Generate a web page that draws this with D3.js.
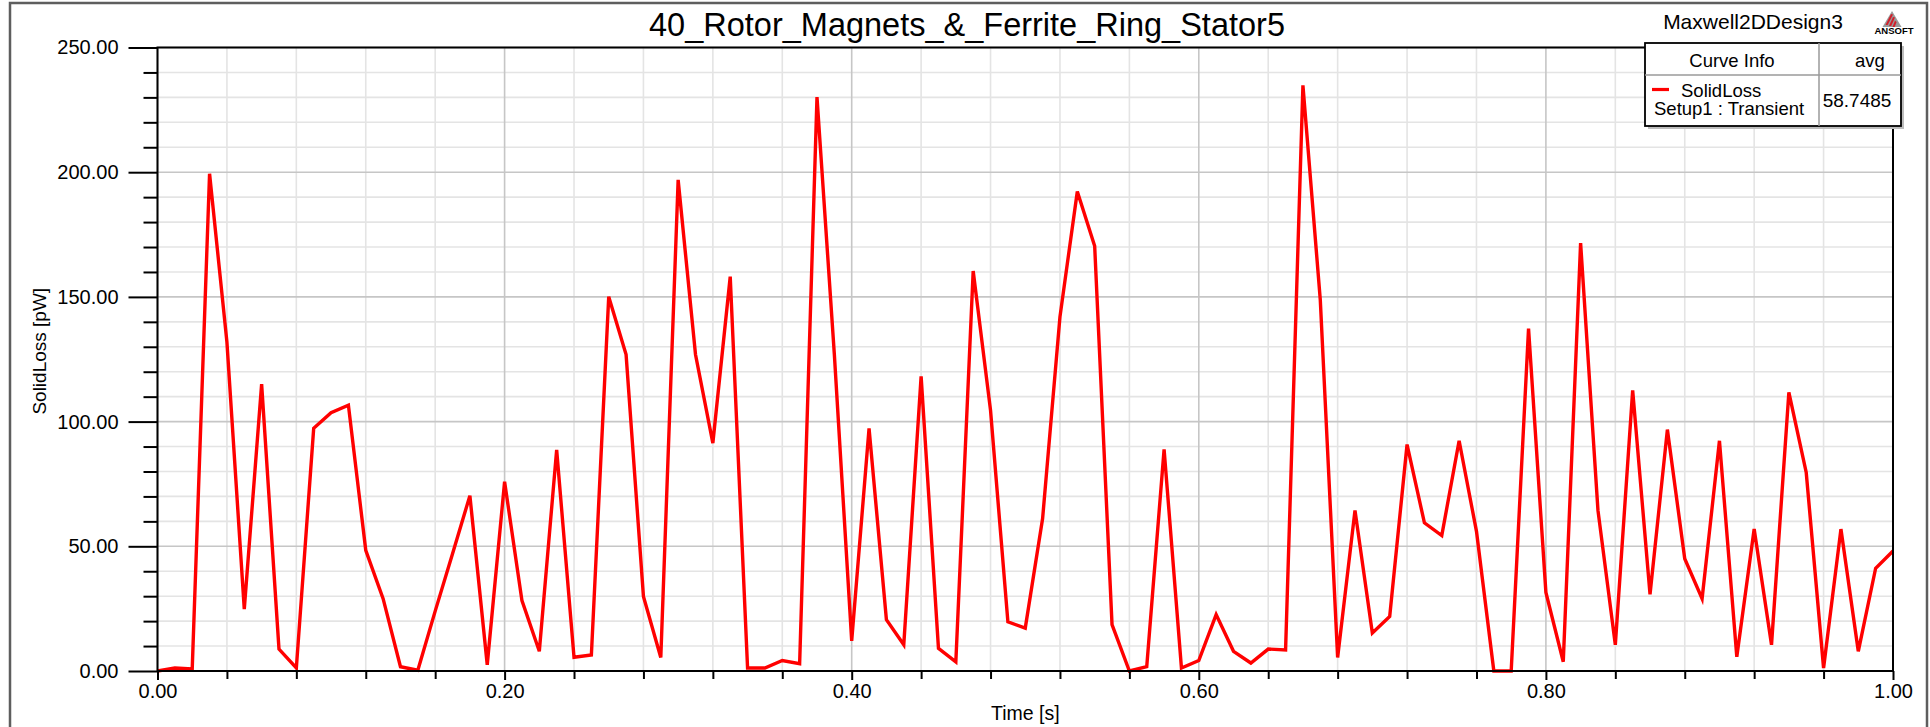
<!DOCTYPE html>
<html>
<head>
<meta charset="utf-8">
<script src="https://cdn.jsdelivr.net/npm/d3@7"></script>
<style>
  html, body { margin: 0; padding: 0; background: #ffffff; }
  svg { display: block; }
  text { font-family: "Liberation Sans", Arial, sans-serif; fill: #000; }
</style>
</head>
<body>
<svg id="chart" width="1930" height="727"></svg>
<script>
// ---------------- data ----------------
const chartTitle = "40_Rotor_Magnets_&_Ferrite_Ring_Stator5";
const designName = "Maxwell2DDesign3";
const xLabel = "Time [s]";
const yLabel = "SolidLoss [pW]";
const legendHeader = ["Curve Info", "avg"];
const seriesName = "SolidLoss";
const seriesSetup = "Setup1 : Transient";
const seriesAvg = "58.7485";

const time = [
  0.00, 0.01, 0.02, 0.03, 0.04, 0.05, 0.06, 0.07, 0.08, 0.09,
  0.10, 0.11, 0.12, 0.13, 0.14, 0.15, 0.16, 0.17, 0.18, 0.19,
  0.20, 0.21, 0.22, 0.23, 0.24, 0.25, 0.26, 0.27, 0.28, 0.29,
  0.30, 0.31, 0.32, 0.33, 0.34, 0.35, 0.36, 0.37, 0.38, 0.39,
  0.40, 0.41, 0.42, 0.43, 0.44, 0.45, 0.46, 0.47, 0.48, 0.49,
  0.50, 0.51, 0.52, 0.53, 0.54, 0.55, 0.56, 0.57, 0.58, 0.59,
  0.60, 0.61, 0.62, 0.63, 0.64, 0.65, 0.66, 0.67, 0.68, 0.69,
  0.70, 0.71, 0.72, 0.73, 0.74, 0.75, 0.76, 0.77, 0.78, 0.79,
  0.80, 0.81, 0.82, 0.83, 0.84, 0.85, 0.86, 0.87, 0.88, 0.89,
  0.90, 0.91, 0.92, 0.93, 0.94, 0.95, 0.96, 0.97, 0.98, 0.99,
  1.00
];
const solidLoss = [
  0.0, 1.2, 0.8, 199.4, 131.9, 24.8, 115.0, 8.8, 1.2, 97.3,
  103.6, 106.6, 48.4, 29.0, 1.7, 0.3, 24.0, 47.0, 70.3, 2.5,
  75.9, 28.2, 7.9, 88.7, 5.5, 6.4, 150.1, 126.9, 29.9, 5.4,
  196.9, 126.9, 91.4, 158.1, 1.2, 1.2, 4.2, 2.9, 230.1, 127.0,
  12.1, 97.3, 20.6, 10.5, 118.1, 9.1, 3.7, 160.4, 104.5, 19.7,
  17.2, 61.1, 142.0, 192.3, 170.4, 18.6, 0.0, 1.7, 88.9, 1.2,
  4.2, 22.6, 7.9, 3.2, 8.8, 8.4, 234.8, 148.8, 5.4, 64.4,
  15.2, 21.9, 90.8, 59.4, 54.3, 92.3, 56.0, 0.0, 0.0, 137.3,
  31.5, 3.7, 171.6, 64.4, 10.5, 112.5, 30.7, 96.8, 45.0, 29.0,
  92.3, 5.7, 56.9, 10.5, 111.7, 79.6, 1.2, 56.9, 7.9, 41.2,
  48.1
];

const yMajorTicks = [0, 50, 100, 150, 200, 250];
const yMinorTicks = [10, 20, 30, 40, 60, 70, 80, 90, 110, 120, 130, 140, 160, 170, 180, 190, 210, 220, 230, 240];
const xMajorTicks = [0.0, 0.2, 0.4, 0.6, 0.8, 1.0];
const xMinorTicks = [0.04, 0.08, 0.12, 0.16, 0.24, 0.28, 0.32, 0.36, 0.44, 0.48, 0.52, 0.56, 0.64, 0.68, 0.72, 0.76, 0.84, 0.88, 0.92, 0.96];

// ---------------- layout ----------------
const plot = { left: 157.5, right: 1893, top: 47.5, bottom: 671 };

const svg = d3.select("#chart");

const x = d3.scaleLinear().domain([0, 1]).range([plot.left, plot.right]);
const y = d3.scaleLinear().domain([0, 250]).range([plot.bottom, plot.top]);

// outer frame
svg.append("rect")
  .attr("x", 10).attr("y", 3)
  .attr("width", 1917).attr("height", 740)
  .attr("fill", "none").attr("stroke", "#5e5e5e").attr("stroke-width", 2.5);

// gridlines
const grid = svg.append("g");
grid.selectAll("line.ymin").data(yMinorTicks).join("line")
  .attr("x1", plot.left).attr("x2", plot.right)
  .attr("y1", d => y(d)).attr("y2", d => y(d))
  .attr("stroke", "#e4e4e4").attr("stroke-width", 1.6);
grid.selectAll("line.xmin").data(xMinorTicks).join("line")
  .attr("y1", plot.top).attr("y2", plot.bottom)
  .attr("x1", d => x(d)).attr("x2", d => x(d))
  .attr("stroke", "#e4e4e4").attr("stroke-width", 1.6);
grid.selectAll("line.ymaj").data(yMajorTicks).join("line")
  .attr("x1", plot.left).attr("x2", plot.right)
  .attr("y1", d => y(d)).attr("y2", d => y(d))
  .attr("stroke", "#c6c6c6").attr("stroke-width", 1.6);
grid.selectAll("line.xmaj").data(xMajorTicks).join("line")
  .attr("y1", plot.top).attr("y2", plot.bottom)
  .attr("x1", d => x(d)).attr("x2", d => x(d))
  .attr("stroke", "#c6c6c6").attr("stroke-width", 1.6);

// data line
const line = d3.line().x((d, i) => x(time[i])).y(d => y(d));
svg.append("path")
  .datum(solidLoss)
  .attr("d", line)
  .attr("fill", "none")
  .attr("stroke", "#ff0000")
  .attr("stroke-width", 3.4)
  .attr("stroke-linejoin", "miter")
  .attr("stroke-miterlimit", 4);

// plot frame
svg.append("rect")
  .attr("x", plot.left).attr("y", plot.top)
  .attr("width", plot.right - plot.left).attr("height", plot.bottom - plot.top)
  .attr("fill", "none").attr("stroke", "#000").attr("stroke-width", 2);

// axes
const yAxisMajor = d3.axisLeft(y).tickValues(yMajorTicks).tickSize(29).tickPadding(10)
  .tickFormat(d3.format(".2f"));
const yAxisMinor = d3.axisLeft(y).tickValues(yMinorTicks).tickSize(14).tickFormat("");
const xAxisMajor = d3.axisBottom(x).tickValues(xMajorTicks).tickSize(9).tickPadding(5)
  .tickFormat(d3.format(".2f"));
const xAxisMinor = d3.axisBottom(x).tickValues(xMinorTicks).tickSize(8).tickFormat("");

function styleAxis(g, fs) {
  g.select(".domain").remove();
  g.selectAll(".tick line").attr("stroke", "#000").attr("stroke-width", 2);
  g.selectAll(".tick text").attr("font-size", fs).attr("font-family", "Liberation Sans, Arial, sans-serif").attr("fill", "#000");
}
svg.append("g").attr("transform", `translate(${plot.left},0)`).call(yAxisMinor).call(g => styleAxis(g, 20));
svg.append("g").attr("transform", `translate(${plot.left},0)`).call(yAxisMajor).call(g => styleAxis(g, 20));
svg.append("g").attr("transform", `translate(0,${plot.bottom})`).call(xAxisMinor).call(g => styleAxis(g, 20));
svg.append("g").attr("transform", `translate(0,${plot.bottom})`).call(xAxisMajor)
  .call(g => styleAxis(g, 20))
  .call(g => g.selectAll(".tick text").attr("dy", null).attr("y", 27));

// axis titles
svg.append("text")
  .attr("transform", `translate(46,${(plot.top + plot.bottom) / 2 - 8}) rotate(-90)`)
  .attr("text-anchor", "middle")
  .attr("font-size", 19)
  .text(yLabel);
svg.append("text")
  .attr("x", (plot.left + plot.right) / 2).attr("y", 720)
  .attr("text-anchor", "middle")
  .attr("font-size", 19.5)
  .text(xLabel);

// title
svg.append("text")
  .attr("x", 967).attr("y", 36)
  .attr("text-anchor", "middle")
  .attr("font-size", 32.5)
  .text(chartTitle);

// design name
svg.append("text")
  .attr("x", 1753).attr("y", 29)
  .attr("text-anchor", "middle")
  .attr("font-size", 21)
  .text(designName);

// ANSOFT logo
const logo = svg.append("g").attr("transform", "translate(1892,11)");
logo.append("path").attr("d", "M0,0 L9.5,16 L-9.5,16 Z").attr("fill", "#9a9a9a");
logo.append("path").attr("d", "M-1,3 L-6.5,14 L-4.3,14 L1,3.5 Z").attr("fill", "#d11f2a");
logo.append("path").attr("d", "M1,6 L-3,15 L-0.8,15 L3,6.5 Z").attr("fill", "#d11f2a");
logo.append("path").attr("d", "M3,9.5 L0.5,16 L2.7,16 L4.6,11 Z").attr("fill", "#d11f2a");
svg.append("text")
  .attr("x", 1894).attr("y", 34)
  .attr("text-anchor", "middle")
  .attr("font-size", 9.5).attr("font-weight", "bold")
  .text("ANSOFT");

// legend
const lg = { x0: 1645, x1: 1901, xDiv: 1819, y0: 43, yDiv: 75, y1: 126 };
svg.append("rect")
  .attr("x", lg.x0 + 3).attr("y", lg.y0 + 3)
  .attr("width", lg.x1 - lg.x0).attr("height", lg.y1 - lg.y0)
  .attr("fill", "#bdbdbd");
svg.append("rect")
  .attr("x", lg.x0).attr("y", lg.y0)
  .attr("width", lg.x1 - lg.x0).attr("height", lg.y1 - lg.y0)
  .attr("fill", "#fff").attr("stroke", "#000").attr("stroke-width", 1.8);
svg.append("line")
  .attr("x1", lg.xDiv).attr("x2", lg.xDiv).attr("y1", lg.y0).attr("y2", lg.y1)
  .attr("stroke", "#9a9a9a").attr("stroke-width", 1.5);
svg.append("line")
  .attr("x1", lg.x0).attr("x2", lg.x1).attr("y1", lg.yDiv).attr("y2", lg.yDiv)
  .attr("stroke", "#9a9a9a").attr("stroke-width", 1.5);
svg.append("text").attr("x", 1732).attr("y", 66.5).attr("text-anchor", "middle")
  .attr("font-size", 18.5).text(legendHeader[0]);
svg.append("text").attr("x", 1870).attr("y", 66.5).attr("text-anchor", "middle")
  .attr("font-size", 18.5).text(legendHeader[1]);
svg.append("line")
  .attr("x1", 1652).attr("x2", 1669).attr("y1", 89.5).attr("y2", 89.5)
  .attr("stroke", "#ff0000").attr("stroke-width", 3.2);
svg.append("text").attr("x", 1681).attr("y", 96.5)
  .attr("font-size", 18.5).text(seriesName);
svg.append("text").attr("x", 1654).attr("y", 115)
  .attr("font-size", 18.5).text(seriesSetup);
svg.append("text").attr("x", 1857).attr("y", 106.5).attr("text-anchor", "middle")
  .attr("font-size", 19).text(seriesAvg);
</script>
</body>
</html>
